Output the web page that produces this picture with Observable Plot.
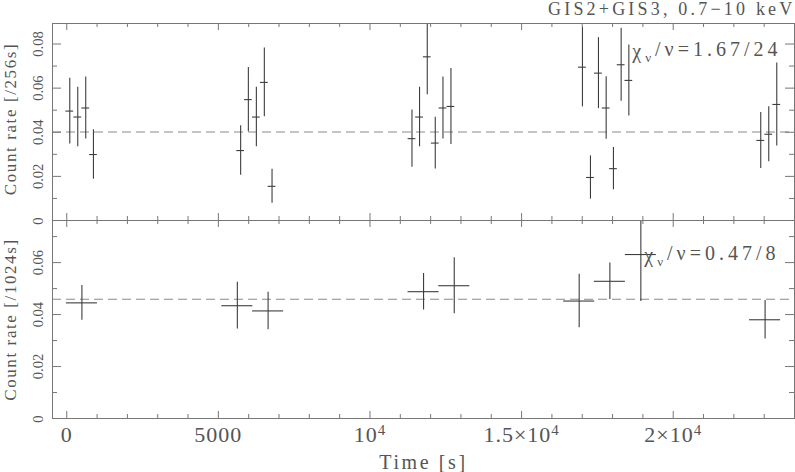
<!DOCTYPE html>
<html><head><meta charset="utf-8">
<script src="https://cdn.jsdelivr.net/npm/d3@7"></script>
<script src="https://cdn.jsdelivr.net/npm/@observablehq/plot@0.6"></script>
<style>
body{margin:0;background:#fff;}
#chart{position:relative;width:795px;height:472px;background:#fff;}
#chart svg{position:absolute;left:0;overflow:visible;background:transparent;}
#chart text{font-family:"Liberation Serif",serif;}
</style></head><body><div id="chart"></div><script>
// ---- data ----
const time256 = [100, 363, 626, 880, 5735, 5989, 6253, 6516, 6770, 11385, 11635, 11889, 12153, 12407, 12670, 17007, 17271, 17535, 17789, 18029, 18283, 18537, 22887, 23151, 23415];
const rate256 = [0.0496, 0.0469, 0.0510, 0.0299, 0.0317, 0.0548, 0.0469, 0.0626, 0.0155, 0.0371, 0.0469, 0.0742, 0.0351, 0.0510, 0.0517, 0.0695, 0.0195, 0.0668, 0.0510, 0.0235, 0.0706, 0.0635, 0.0363, 0.0391, 0.0526];
const err256 = [0.0149, 0.0135, 0.0140, 0.0112, 0.0112, 0.0146, 0.0135, 0.0156, 0.0077, 0.0130, 0.0135, 0.0172, 0.0117, 0.0140, 0.0172, 0.0180, 0.0098, 0.0161, 0.0142, 0.0096, 0.0166, 0.0161, 0.0127, 0.0125, 0.0188];
const halfBin256 = 128;
const mean256 = 0.0401;

const time1024 = [500, 5626, 6640, 11767, 12779, 16899, 17911, 18933, 23030];
const rate1024 = [0.0445, 0.0434, 0.0414, 0.0488, 0.0511, 0.0452, 0.0528, 0.0631, 0.0380];
const err1024 = [0.0067, 0.0090, 0.0072, 0.0070, 0.0108, 0.0103, 0.0070, 0.0181, 0.0074];
const halfBin1024 = 512;
const mean1024 = 0.0459;

const titleText = "GIS2+GIS3, 0.7\u221210 keV";
const chi256 = "\u03c7_\u03bd/\u03bd=1.67/24";
const chi1024 = "\u03c7_\u03bd/\u03bd=0.47/8";
const yLabel256 = "Count rate [/256s]";
const yLabel1024 = "Count rate [/1024s]";
const xLabel = "Time [s]";

const xDomain = [-470, 24000];
const xMajorTicks = [0, 5000, 10000, 15000, 20000];
const xTickLabels = ["0", "5000", "10^4", "1.5\u00d710^4", "2\u00d710^4"];
const xMinorTicks = [1000,2000,3000,4000,6000,7000,8000,9000,11000,12000,13000,14000,16000,17000,18000,19000,21000,22000,23000];

const yDomain256 = [0, 0.0893];
const yMajor256 = [0, 0.02, 0.04, 0.06, 0.08];
const yTickLabels256 = ["0", "0.02", "0.04", "0.06", "0.08"];
const yMinor256 = [0.01, 0.03, 0.05, 0.07];

const yDomain1024 = [0, 0.0762];
const yMajor1024 = [0, 0.02, 0.04, 0.06];
const yTickLabels1024 = ["0", "0.02", "0.04", "0.06"];
const yMinor1024 = [0.01, 0.03, 0.05, 0.07];

// ---- drawing ----
const W = 795, ML = 52, MR = 1;
const innerW = W - ML - MR;
const axisColor = "#777", barColor = "#3d3d3d", textColor = "#555";

// letter spacing per kind of text (the reference font is wide)
const spacing = new Map();
spacing.set(titleText, 3.2);
spacing.set(chi256, 4); spacing.set(chi1024, 4);
spacing.set(yLabel256, 1.6); spacing.set(yLabel1024, 1.6);
spacing.set(xLabel, 2.6);
xTickLabels.forEach(s => spacing.set(s, 1));

function panel(o) {
  const data = o.time.map((t, i) => ({t, v: o.rate[i], e: o.err[i]}));
  const innerH = o.height - o.marginTop - o.marginBottom;
  const marks = [
    Plot.ruleY([o.mean], {stroke: "#8a8a8a", strokeDasharray: "9,5", strokeWidth: 1.1}),
    Plot.ruleX(data, {x: "t", y1: d => d.v - d.e, y2: d => d.v + d.e, stroke: barColor, strokeWidth: 1.1, clip: true}),
    Plot.ruleY(data, {y: "v", x1: d => d.t - o.half, x2: d => d.t + o.half, stroke: barColor, strokeWidth: 1.1, clip: true}),
    // inward ticks
    Plot.tickX(xMajorTicks, {x: d => d, insetTop: innerH - 7, stroke: axisColor}),
    Plot.tickX(xMajorTicks, {x: d => d, insetBottom: innerH - 7, stroke: axisColor}),
    Plot.tickX(xMinorTicks, {x: d => d, insetTop: innerH - 4, stroke: axisColor}),
    Plot.tickX(xMinorTicks, {x: d => d, insetBottom: innerH - 4, stroke: axisColor}),
    Plot.tickY(o.yMajor, {y: d => d, insetRight: innerW - 9, stroke: axisColor}),
    Plot.tickY(o.yMajor, {y: d => d, insetLeft: innerW - 9, stroke: axisColor}),
    Plot.tickY(o.yMinor, {y: d => d, insetRight: innerW - 5, stroke: axisColor}),
    Plot.tickY(o.yMinor, {y: d => d, insetLeft: innerW - 5, stroke: axisColor}),
    Plot.frame({stroke: axisColor}),
    Plot.text(o.yMajor, {y: d => d, text: (d, i) => o.yTickLabels[i], frameAnchor: "left", textAnchor: "middle", rotate: -90, dx: -14, fontSize: 14.5, fill: textColor}),
    Plot.text([o.yLabel], {text: d => d, frameAnchor: "left", textAnchor: "middle", rotate: -90, dx: -42, dy: o.yLabelDy, fontSize: 17, fill: textColor}),
    Plot.text([o.chi], {text: d => d, frameAnchor: "top-right", textAnchor: "end", lineAnchor: "top", dx: o.chiDx, dy: o.chiDy, fontSize: 20, fill: textColor})
  ];
  if (o.title) marks.push(Plot.text([o.title], {text: d => d, frameAnchor: "top-right", textAnchor: "end", lineAnchor: "top", dx: 1, dy: -21, fontSize: 18, fill: textColor}));
  if (o.showX) {
    marks.push(Plot.text(xMajorTicks, {x: d => d, text: (d, i) => xTickLabels[i], frameAnchor: "bottom", lineAnchor: "top", dy: 7.5, fontSize: 22, fill: textColor}));
    marks.push(Plot.text([xLabel], {text: d => d, frameAnchor: "bottom", lineAnchor: "top", dy: 36, fontSize: 20, fill: textColor}));
  }
  const svg = Plot.plot({
    width: W, height: o.height,
    marginLeft: ML, marginRight: MR, marginTop: o.marginTop, marginBottom: o.marginBottom,
    x: {domain: xDomain, axis: null},
    y: {domain: o.yDomain, axis: null},
    style: {background: "transparent", overflow: "visible", fontFamily: "Liberation Serif"},
    marks
  });
  svg.style.top = o.top + "px";
  return svg;
}

function richText(svg) {
  d3.select(svg).selectAll("text").each(function () {
    const s = this.textContent;
    const sel = d3.select(this);
    if (spacing.has(s)) sel.style("letter-spacing", spacing.get(s) + "px");
    if (s.includes("^")) {
      const [base, sup] = s.split("^");
      sel.text(null);
      sel.append("tspan").text(base);
      sel.append("tspan").attr("dy", "-0.45em").attr("font-size", "0.68em").text(sup);
    } else if (s.includes("_")) {
      const [a, rest] = s.split("_");
      const sub = rest.slice(0, 1), tail = rest.slice(1);
      sel.text(null);
      sel.append("tspan").text(a);
      sel.append("tspan").attr("dy", "0.3em").attr("font-size", "0.65em").text(sub);
      sel.append("tspan").attr("dy", "-0.3em").text(tail);
    }
  });
}

const chartEl = document.getElementById("chart");
const topPanel = panel({time: time256, rate: rate256, err: err256, half: halfBin256, mean: mean256,
  yDomain: yDomain256, yMajor: yMajor256, yMinor: yMinor256, yTickLabels: yTickLabels256,
  yLabel: yLabel256, yLabelDy: -3, chi: chi256, chiDx: -13, chiDy: 20, title: titleText,
  height: 222, marginTop: 23, marginBottom: 2, top: 0, showX: false});
const bottomPanel = panel({time: time1024, rate: rate1024, err: err1024, half: halfBin1024, mean: mean1024,
  yDomain: yDomain1024, yMajor: yMajor1024, yMinor: yMinor1024, yTickLabels: yTickLabels1024,
  yLabel: yLabel1024, yLabelDy: 0, chi: chi1024, chiDx: -15, chiDy: 27,
  height: 254, marginTop: 2, marginBottom: 54, top: 218, showX: true});
chartEl.appendChild(topPanel);
chartEl.appendChild(bottomPanel);
richText(topPanel);
richText(bottomPanel);
</script></body></html>
